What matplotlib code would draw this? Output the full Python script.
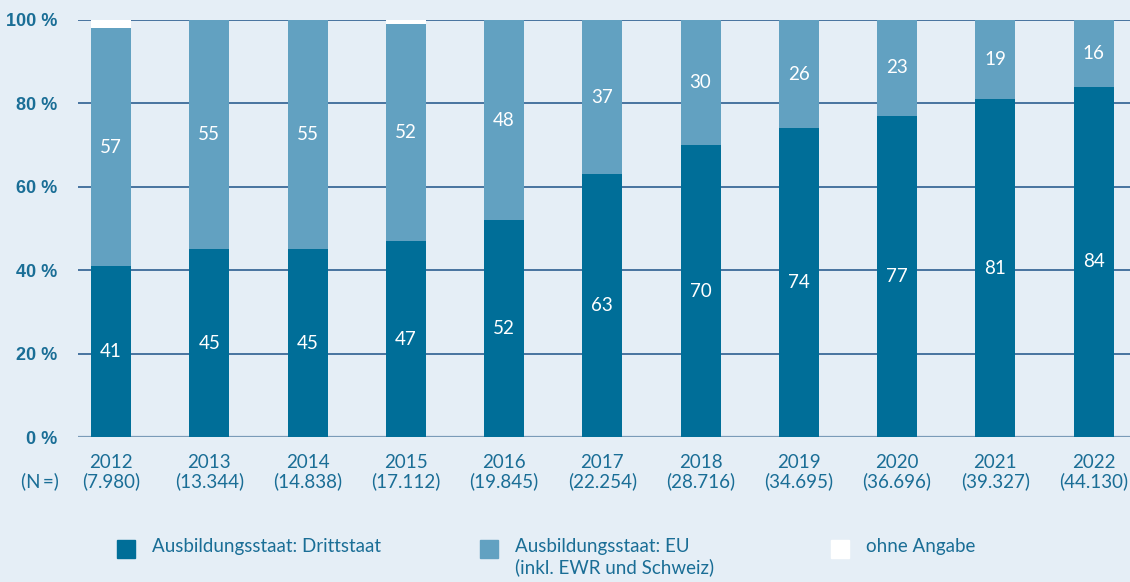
import matplotlib.pyplot as plt
import matplotlib.patches as mpatches
import matplotlib.transforms as mtransforms

# Data
years = ['2012', '2013', '2014', '2015', '2016', '2017', '2018', '2019', '2020', '2021', '2022']
n_counts = ['7.980', '13.344', '14.838', '17.112', '19.845', '22.254',
            '28.716', '34.695', '36.696', '39.327', '44.130']
drittstaat = [41, 45, 45, 47, 52, 63, 70, 74, 77, 81, 84]
eu = [57, 55, 55, 52, 48, 37, 30, 26, 23, 19, 16]
ohne_angabe = [100 - d - e for d, e in zip(drittstaat, eu)]

series_labels = ['Ausbildungsstaat: Drittstaat',
                 'Ausbildungsstaat: EU\n(inkl. EWR und Schweiz)',
                 'ohne Angabe']

bg = '#e5eef6'
dark = '#006e98'
light = '#62a1c1'
text_col = '#1a6e96'
grid_col = '#1d5288'

plt.rcParams['font.family'] = ['Lato', 'DejaVu Sans']

fig = plt.figure(figsize=(11.3, 5.82), dpi=100, facecolor=bg)
ax = fig.add_axes([78 / 1130, 1 - 437 / 582, 1 - 78 / 1130, 417 / 582])
ax.set_facecolor(bg)

x = list(range(len(years)))
width = 0.407

# Gridlines behind bars
for v in [20, 40, 60, 80, 100]:
    ax.axhline(v, color=grid_col, lw=1.1, zorder=1)
ax.axhline(0, color='#7a9bb8', lw=1.6, zorder=1)

bottom_eu = drittstaat
bottom_na = [d + e for d, e in zip(drittstaat, eu)]
ax.bar(x, drittstaat, width, color=dark, zorder=2, clip_on=False)
ax.bar(x, eu, width, bottom=bottom_eu, color=light, zorder=2, clip_on=False)
ax.bar(x, ohne_angabe, width, bottom=bottom_na, color='white', zorder=2, clip_on=False)

# Value labels
for i in x:
    ax.text(i, drittstaat[i] / 2, str(drittstaat[i]), ha='center', va='center',
            color='white', fontsize=13.5, zorder=3)
    ax.text(i, drittstaat[i] + eu[i] / 2, str(eu[i]), ha='center', va='center',
            color='white', fontsize=13.5, zorder=3)

ax.set_xlim(-0.336, 10.371)
ax.set_ylim(0, 100)
for s in ax.spines.values():
    s.set_visible(False)
ax.set_xticks([])
ax.set_yticks([0, 20, 40, 60, 80, 100])
ax.set_yticklabels([f'{v} %' for v in [0, 20, 40, 60, 80, 100]],
                   fontsize=13, fontweight='bold', family='Liberation Sans',
                   color=text_col)
ax.tick_params(axis='y', length=0, pad=15)

# Two-line x labels: year and (N)
trans = mtransforms.blended_transform_factory(ax.transData, fig.transFigure)
for i in x:
    ax.text(i, 1 - 462 / 582, years[i], transform=trans, ha='center', va='center',
            color=text_col, fontsize=13.5)
    ax.text(i, 1 - 481 / 582, f'({n_counts[i]})', transform=trans, ha='center',
            va='center', color=text_col, fontsize=13.5)
fig.text(40 / 1130, 1 - 481 / 582, '(N\u2009=)', ha='center', va='center',
         color=text_col, fontsize=13.5)

# Legend
legend_items = [(117, dark, series_labels[0]),
                (480, light, series_labels[1]),
                (831, 'white', series_labels[2])]
sq = 18
for lx, col, lab in legend_items:
    fig.patches.append(mpatches.Rectangle((lx / 1130, 1 - 558 / 582), sq / 1130, sq / 582,
                                          transform=fig.transFigure, color=col))
    fig.text((lx + 35) / 1130, 1 - 538 / 582, lab, ha='left', va='top',
             color=text_col, fontsize=13.5, linespacing=1.25)

fig.savefig('out.png', dpi=100, facecolor=bg)
